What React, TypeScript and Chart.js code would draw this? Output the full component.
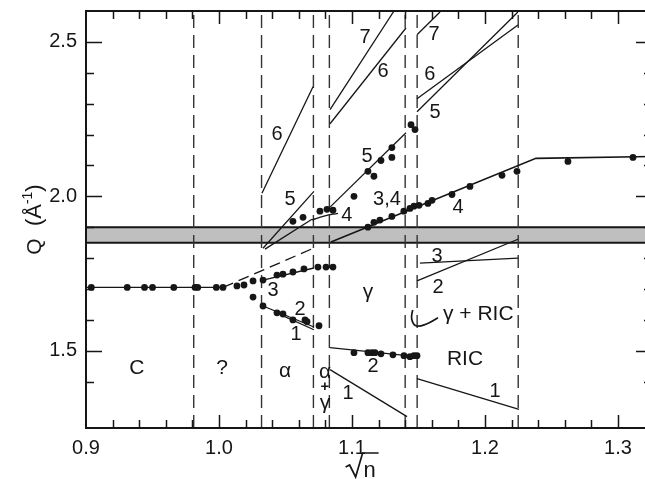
import React, { useEffect, useRef } from "react";
import { Chart, registerables } from "chart.js";
Chart.register(...registerables);

const FONT = "'Liberation Sans', Arial, Helvetica, sans-serif";
const INK = "#161616";

// axis ranges / tick labels
const X_MIN = 0.9;
const X_MAX = 1.3256;
const Y_MIN = 1.25;
const Y_MAX = 2.6;
const xTickLabels = ["0.9", "1.0", "1.1", "1.2", "1.3"];
const yTickLabels = ["1.5", "2.0", "2.5"];

// phase boundaries (dashed) and shaded band
const phaseBoundaries = [0.981, 1.032, 1.071, 1.083, 1.14, 1.149, 1.225];
const bandTopQ = 1.9;
const bandBottomQ = 1.85;

// measured points
const cPoints: [number, number][] = [
  [0.904, 1.705], [0.931, 1.705], [0.944, 1.705], [0.95, 1.705], [0.966, 1.705],
  [0.982, 1.705], [0.984, 1.705], [0.998, 1.705], [1.003, 1.705],
];
const transitionPoints: [number, number][] = [
  [1.0135, 1.71], [1.0188, 1.713], [1.0256, 1.726], [1.0256, 1.674],
];
const branch3Points: [number, number][] = [
  [1.0331, 1.729], [1.0436, 1.745], [1.0481, 1.748], [1.0556, 1.755], [1.0639, 1.765],
  [1.0744, 1.771], [1.0805, 1.771], [1.0857, 1.771],
];
const branch12Points: [number, number][] = [
  [1.0331, 1.645], [1.0436, 1.623], [1.0481, 1.619], [1.0556, 1.6], [1.0647, 1.6],
  [1.0662, 1.594], [1.0752, 1.581],
];
const alpha45Points: [number, number][] = [
  [1.0556, 1.919], [1.0632, 1.932], [1.0759, 1.952], [1.0812, 1.958], [1.0857, 1.955],
];
const gamma5Points: [number, number][] = [
  [1.1015, 2.0], [1.112, 2.081], [1.1165, 2.065], [1.1218, 2.116], [1.13, 2.158],
  [1.13, 2.126], [1.1444, 2.232], [1.1474, 2.216],
];
const line34Points: [number, number][] = [
  [1.112, 1.9], [1.1165, 1.916], [1.121, 1.923], [1.13, 1.935], [1.139, 1.952],
  [1.1436, 1.961], [1.1466, 1.968], [1.1504, 1.971], [1.1571, 1.977], [1.1602, 1.987],
  [1.1752, 2.006], [1.1887, 2.032], [1.2128, 2.068], [1.2241, 2.081], [1.2624, 2.113],
  [1.3113, 2.126],
];
const gamma2Points: [number, number][] = [
  [1.1015, 1.494], [1.112, 1.494], [1.115, 1.494], [1.1173, 1.494], [1.1218, 1.49],
  [1.1308, 1.487], [1.1391, 1.484], [1.1436, 1.481], [1.1466, 1.484], [1.1489, 1.484],
];

// fitted lines
const cLine: [number, number][] = [[0.9, 1.705], [1.003, 1.705]];
const extrapolationDashed: [number, number][] = [[1.003, 1.705], [1.071, 1.832]];
const alphaLine3: [number, number][] = [[1.0331, 1.729], [1.0714, 1.768]];
const alphaLine2: [number, number][] = [[1.0331, 1.645], [1.0714, 1.577]];
const alphaLine1: [number, number][] = [[1.0436, 1.622], [1.0714, 1.568]];
const alphaLine6: [number, number][] = [[1.0323, 2.01], [1.0707, 2.355]];
const alphaLine5: [number, number][] = [[1.0331, 1.832], [1.0714, 2.016]];
const alphaLine4: [number, number][] = [[1.0346, 1.829], [1.0699, 1.926]];
const alphaArrow4: [number, number][] = [[1.0699, 1.924], [1.0797, 1.937], [1.0895, 1.945]];
const gammaLine7: [number, number][] = [[1.0835, 2.281], [1.1316, 2.6]];
const gammaLine6: [number, number][] = [[1.0835, 2.235], [1.1406, 2.545]];
const gammaLine5: [number, number][] = [[1.0835, 1.965], [1.1406, 2.206]];
const line34: [number, number][] = [[1.0842, 1.852], [1.2383, 2.123], [1.3256, 2.129]];
const gammaLine2: [number, number][] = [[1.0835, 1.51], [1.1489, 1.481]];
const gammaLine1: [number, number][] = [[1.0835, 1.439], [1.1414, 1.287]];
const ricLine1: [number, number][] = [[1.1489, 1.41], [1.2256, 1.31]];
const ricLine2: [number, number][] = [[1.1489, 1.726], [1.2248, 1.861]];
const ricLine3: [number, number][] = [[1.1511, 1.784], [1.2248, 1.8]];
const ricLine5: [number, number][] = [[1.1489, 2.274], [1.2248, 2.597]];
const ricLine6: [number, number][] = [[1.1489, 2.316], [1.2248, 2.555]];
const ricLine7: [number, number][] = [[1.1489, 2.523], [1.1662, 2.597]];
const ricHook: [number, number][] = [[1.1456, 1.632], [1.1449, 1.603], [1.1481, 1.581], [1.1556, 1.586], [1.1647, 1.607]];

// text labels [text, x, Q]
const lineLabels: [string, number, number][] = [
  ["6", 1.0436, 2.2], ["5", 1.0534, 1.99], ["4", 1.0962, 1.939], ["7", 1.1098, 2.513],
  ["6", 1.1233, 2.403], ["5", 1.1113, 2.129], ["3,4", 1.1263, 1.99], ["7", 1.1617, 2.523],
  ["6", 1.1586, 2.394], ["5", 1.1624, 2.271], ["4", 1.1797, 1.965], ["3", 1.1639, 1.806],
  ["2", 1.1647, 1.706], ["3", 1.0406, 1.694], ["2", 1.0609, 1.635], ["1", 1.0579, 1.552],
  ["2", 1.1158, 1.448], ["1", 1.097, 1.361], ["1", 1.2075, 1.368],
];
const regionLabels: [string, number, number][] = [
  ["C", 0.9383, 1.442], ["?", 1.0023, 1.442], ["α", 1.0496, 1.435], ["α", 1.0797, 1.432],
  ["+", 1.0797, 1.384], ["γ", 1.0797, 1.329], ["γ", 1.112, 1.69], ["γ + RIC", 1.195, 1.619],
  ["RIC", 1.185, 1.474],
];

const toXY = (arr: [number, number][]) => arr.map(([x, y]) => ({ x, y }));
const lineDs = (arr: [number, number][], extra: any = {}) => ({
  type: "line",
  data: toXY(arr),
  borderColor: INK,
  borderWidth: 1.3,
  pointRadius: 0,
  fill: false,
  tension: 0,
  ...extra,
});
const pointDs = (arr: [number, number][]) => ({
  type: "scatter",
  data: toXY(arr),
  pointRadius: 3.4,
  pointBackgroundColor: INK,
  pointBorderWidth: 0,
  showLine: false,
});

const isMult = (v: number, step: number) => Math.abs(v / step - Math.round(v / step)) < 1e-6;

const overlayPlugin = {
  id: "overlay",
  afterDraw(chart: any) {
    const ctx = chart.ctx as CanvasRenderingContext2D;
    const a = chart.chartArea;
    const xs = chart.scales.x;
    const ys = chart.scales.y;
    ctx.save();
    ctx.strokeStyle = INK;
    ctx.lineWidth = 2;
    ctx.beginPath();
    ctx.moveTo(a.left, a.top);
    ctx.lineTo(a.right, a.top);
    ctx.lineTo(a.right, a.bottom);
    ctx.lineTo(a.left, a.bottom);
    ctx.closePath();
    ctx.stroke();

    ctx.lineWidth = 1.5;
    ctx.beginPath();
    xs.ticks.forEach((t: any) => {
      const v = t.value;
      if (!isMult(v, 0.02) || v <= X_MIN + 1e-6) return;
      const L = isMult(v, 0.1) ? 13 : 8;
      const px = Math.round(xs.getPixelForValue(v)) + 0.5;
      ctx.moveTo(px, a.bottom);
      ctx.lineTo(px, a.bottom - L);
      ctx.moveTo(px, a.top);
      ctx.lineTo(px, a.top + L);
    });
    ys.ticks.forEach((t: any) => {
      const v = t.value;
      if (!isMult(v, 0.1) || v >= Y_MAX - 1e-6) return;
      const L = isMult(v, 0.5) ? 16 : 8;
      const py = Math.round(ys.getPixelForValue(v)) + 0.5;
      ctx.moveTo(a.left, py);
      ctx.lineTo(a.left + L, py);
      ctx.moveTo(a.right, py);
      ctx.lineTo(a.right - L, py);
    });
    ctx.stroke();

    ctx.fillStyle = INK;
    ctx.textAlign = "center";
    ctx.textBaseline = "middle";
    ctx.font = `20px ${FONT}`;
    lineLabels.forEach(([t, x, y]) => {
      ctx.fillText(t, xs.getPixelForValue(x), ys.getPixelForValue(y));
    });
    regionLabels.forEach(([t, x, y]) => {
      ctx.font = t === "+" ? `bold 15px ${FONT}` : `21px ${FONT}`;
      ctx.fillText(t, xs.getPixelForValue(x), ys.getPixelForValue(y));
    });

    // y-axis title: Q (Å^-1)
    ctx.save();
    ctx.translate(33, (a.top + a.bottom) / 2);
    ctx.rotate(-Math.PI / 2);
    ctx.textAlign = "left";
    ctx.textBaseline = "alphabetic";
    const parts: [string, number, number][] = [["Q", 21, 0], ["  (Å", 22, 0], ["-1", 14, -9], [")", 22, 0]];
    let total = 0;
    parts.forEach(([t, s]) => { ctx.font = `${s}px ${FONT}`; total += ctx.measureText(t).width; });
    let cx = -total / 2;
    parts.forEach(([t, s, dy]) => {
      ctx.font = `${s}px ${FONT}`;
      ctx.fillText(t, cx, 8 + dy);
      cx += ctx.measureText(t).width;
    });
    ctx.restore();

    // x-axis title: sqrt(n)
    const cxn = xs.getPixelForValue(1.108);
    const base = a.bottom + 49;
    ctx.lineWidth = 1.7;
    ctx.beginPath();
    ctx.moveTo(cxn - 17, base - 10);
    ctx.lineTo(cxn - 13, base - 12);
    ctx.lineTo(cxn - 7, base);
    ctx.lineTo(cxn, base - 24);
    ctx.lineTo(cxn + 16, base - 24);
    ctx.stroke();
    ctx.font = `22px ${FONT}`;
    ctx.textAlign = "left";
    ctx.textBaseline = "alphabetic";
    ctx.fillText("n", cxn + 1, base);
    ctx.restore();
  },
};

export default function App() {
  const ref = useRef<HTMLCanvasElement | null>(null);
  useEffect(() => {
    if (!ref.current) return;
    const dashed = phaseBoundaries.map((b) =>
      lineDs([[b, Y_MIN], [b, Y_MAX]], { borderDash: [13, 7], borderWidth: 1.4, borderColor: "#333" })
    );
    const datasets: any[] = [
      pointDs(cPoints), pointDs(transitionPoints), pointDs(branch3Points), pointDs(branch12Points),
      pointDs(alpha45Points), pointDs(gamma5Points), pointDs(line34Points), pointDs(gamma2Points),
      lineDs(cLine), lineDs(extrapolationDashed, { borderDash: [11, 6] }),
      lineDs(alphaLine3), lineDs(alphaLine2), lineDs(alphaLine1), lineDs(alphaLine6),
      lineDs(alphaLine5), lineDs(alphaLine4), lineDs(alphaArrow4, { tension: 0.4 }),
      lineDs(gammaLine7), lineDs(gammaLine6), lineDs(gammaLine5), lineDs(line34, { borderWidth: 1.6 }),
      lineDs(gammaLine2), lineDs(gammaLine1),
      lineDs(ricLine1), lineDs(ricLine2), lineDs(ricLine3), lineDs(ricLine5), lineDs(ricLine6), lineDs(ricLine7),
      lineDs(ricHook, { tension: 0.45, borderWidth: 1.7 }),
      ...dashed,
      lineDs([[X_MIN, bandTopQ], [X_MAX, bandTopQ]], { borderWidth: 2 }),
      lineDs([[X_MIN, bandBottomQ], [X_MAX, bandBottomQ]], { borderWidth: 2, fill: "-1", backgroundColor: "#bfbfbf" }),
    ];
    const chart = new Chart(ref.current, {
      type: "scatter",
      data: { datasets },
      options: {
        responsive: false,
        animation: false,
        devicePixelRatio: 1,
        layout: { padding: { left: 0, top: 11, right: 8, bottom: 0 } },
        plugins: { legend: { display: false }, tooltip: { enabled: false } },
        scales: {
          x: {
            type: "linear",
            min: X_MIN,
            max: X_MAX,
            grid: { display: false, drawTicks: false },
            border: { display: false },
            ticks: {
              stepSize: 0.02,
              autoSkip: false,
              maxRotation: 0,
              minRotation: 0,
              padding: 8,
              color: INK,
              font: { family: FONT, size: 20 },
              callback: (v: any) => {
                const s = Number(v).toFixed(1);
                return isMult(Number(v), 0.1) && xTickLabels.includes(s) ? s : "";
              },
            },
            afterFit: (s: any) => { s.height = 51; s.paddingLeft = 0; s.paddingRight = 0; },
          },
          y: {
            type: "linear",
            min: Y_MIN,
            max: Y_MAX,
            grid: { display: false, drawTicks: false },
            border: { display: false },
            ticks: {
              stepSize: 0.1,
              autoSkip: false,
              padding: 9,
              color: INK,
              font: { family: FONT, size: 20 },
              callback: (v: any) => {
                const s = Number(v).toFixed(1);
                return isMult(Number(v), 0.5) && yTickLabels.includes(s) ? s : "";
              },
            },
            afterFit: (s: any) => { s.width = 86; s.paddingTop = 0; s.paddingBottom = 0; },
          },
        },
      } as any,
      plugins: [overlayPlugin],
    });
    return () => chart.destroy();
  }, []);
  return (
    <div style={{ position: "absolute", left: 0, top: 0, width: 645, height: 479, overflow: "hidden", background: "#fff" }}>
      <canvas ref={ref} width={660} height={479} style={{ display: "block" }} />
    </div>
  );
}
